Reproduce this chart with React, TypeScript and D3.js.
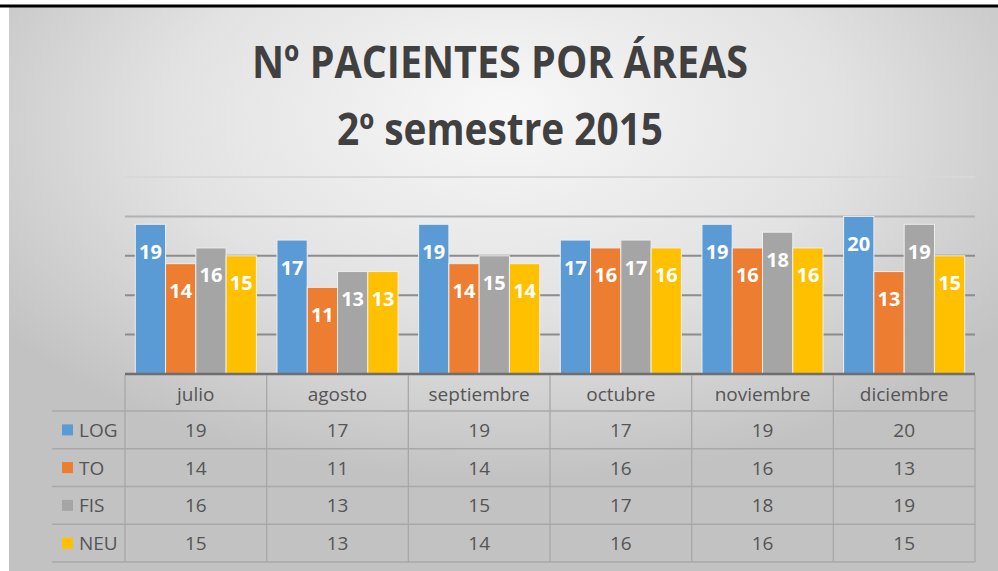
import React from "react";
import * as d3 from "d3";

const months = ["julio", "agosto", "septiembre", "octubre", "noviembre", "diciembre"];
const seriesNames = ["LOG", "TO", "FIS", "NEU"];
const LOG = [19, 17, 19, 17, 19, 20];
const TO = [14, 11, 14, 16, 16, 13];
const FIS = [16, 13, 15, 17, 18, 19];
const NEU = [15, 13, 14, 16, 16, 15];
const seriesValues = [LOG, TO, FIS, NEU];
const colors = ["#5B9BD5", "#ED7D31", "#A5A5A5", "#FFC000"];
const gridTicks = [5, 10, 15, 20, 25];
const titleLine1 = "Nº PACIENTES POR ÁREAS";
const titleLine2 = "2º semestre 2015";

const W = 998;
const H = 571;
const plotLeft = 125;
const plotRight = 975;
const baseY = 374;
const tableLeft = 52;
const headerBottom = 411;
const rowH = 37.75;

export default function App() {
  const x0 = d3.scaleBand<string>().domain(months).range([plotLeft, plotRight]).padding(0);
  const x1 = d3
    .scaleBand<string>()
    .domain(seriesNames)
    .range([0, x0.bandwidth()])
    .paddingInner(0)
    .paddingOuter(0.34);
  const y = d3.scaleLinear().domain([0, 25]).range([baseY, 177]);
  const gridColor = d3.scaleLinear<string>().domain([15, 25]).range(["#8c8c8c", "#d8d8d8"]).clamp(true);
  const font = "'Open Sans', 'Noto Sans', sans-serif";
  const tableBottom = headerBottom + rowH * seriesNames.length;

  return (
    <svg
      width={W}
      height={H}
      style={{ position: "absolute", left: 0, top: 0, display: "block" }}
      fontFamily={font}
    >
      <defs>
        <radialGradient id="bg" cx="50%" cy="22%" r="62%" fx="50%" fy="18%">
          <stop offset="0%" stopColor="#f8f8f8" />
          <stop offset="55%" stopColor="#e2e2e2" />
          <stop offset="100%" stopColor="#c2c2c2" />
        </radialGradient>
      </defs>
      <rect x={0} y={0} width={W} height={H} fill="#ffffff" />
      <rect x={9} y={7} width={W - 9} height={H - 7} fill="url(#bg)" />
      <rect x={0} y={4.5} width={W} height={3} fill="#000000" />

      {/* Title */}
      <text
        x={500}
        y={78}
        textAnchor="middle"
        fontSize={45}
        fontWeight={700}
        fill="#404040"
        textLength={496}
        lengthAdjust="spacingAndGlyphs"
      >
        {titleLine1}
      </text>
      <text
        x={500}
        y={145}
        textAnchor="middle"
        fontSize={44}
        fontWeight={700}
        fill="#404040"
        textLength={326}
        lengthAdjust="spacingAndGlyphs"
      >
        {titleLine2}
      </text>

      {/* Gridlines */}
      {gridTicks.map((t) => (
        <line
          key={t}
          x1={plotLeft}
          x2={plotRight}
          y1={y(t)}
          y2={y(t)}
          stroke={gridColor(t)}
          strokeWidth={2}
        />
      ))}

      {/* Bars */}
      {months.map((m, i) => (
        <g key={m} transform={`translate(${x0(m)},0)`}>
          {seriesNames.map((s, j) => {
            const v = seriesValues[j][i];
            const bx = x1(s) as number;
            const bw = x1.bandwidth();
            return (
              <g key={s}>
                <rect
                  x={bx}
                  y={y(v)}
                  width={bw}
                  height={baseY - y(v)}
                  fill={colors[j]}
                  stroke="#eeeeee"
                  strokeWidth={1}
                />
                <text
                  x={bx + bw / 2}
                  y={y(v) + 34.5}
                  textAnchor="middle"
                  fontSize={20}
                  fontWeight={700}
                  fill="#ffffff"
                >
                  {v}
                </text>
              </g>
            );
          })}
        </g>
      ))}

      {/* Axis baseline */}
      <line x1={plotLeft} x2={plotRight} y1={baseY} y2={baseY} stroke="#6e6e6e" strokeWidth={2.5} />

      {/* Data table */}
      <g stroke="#a8a8a8" strokeWidth={1.3}>
        {months.map((m) => (
          <line key={m} x1={x0(m)} x2={x0(m)} y1={baseY + 1} y2={tableBottom} />
        ))}
        <line x1={plotRight} x2={plotRight} y1={baseY + 1} y2={tableBottom} />
        {seriesNames.map((s, j) => (
          <line
            key={s}
            x1={tableLeft}
            x2={plotRight}
            y1={headerBottom + rowH * j}
            y2={headerBottom + rowH * j}
          />
        ))}
        <line x1={tableLeft} x2={plotRight} y1={tableBottom} y2={tableBottom} />
      </g>

      {months.map((m) => (
        <text
          key={m}
          x={(x0(m) as number) + x0.bandwidth() / 2}
          y={401}
          textAnchor="middle"
          fontSize={19}
          fill="#555555"
        >
          {m}
        </text>
      ))}

      {seriesNames.map((s, j) => {
        const cy = headerBottom + rowH * j + rowH / 2;
        return (
          <g key={s}>
            <rect x={62} y={cy - 5.5} width={11} height={11} fill={colors[j]} />
            <text x={79} y={cy + 7} fontSize={19} fill="#555555">
              {s}
            </text>
            {months.map((m, i) => (
              <text
                key={m}
                x={(x0(m) as number) + x0.bandwidth() / 2}
                y={cy + 7}
                textAnchor="middle"
                fontSize={19}
                fill="#555555"
              >
                {seriesValues[j][i]}
              </text>
            ))}
          </g>
        );
      })}
    </svg>
  );
}
